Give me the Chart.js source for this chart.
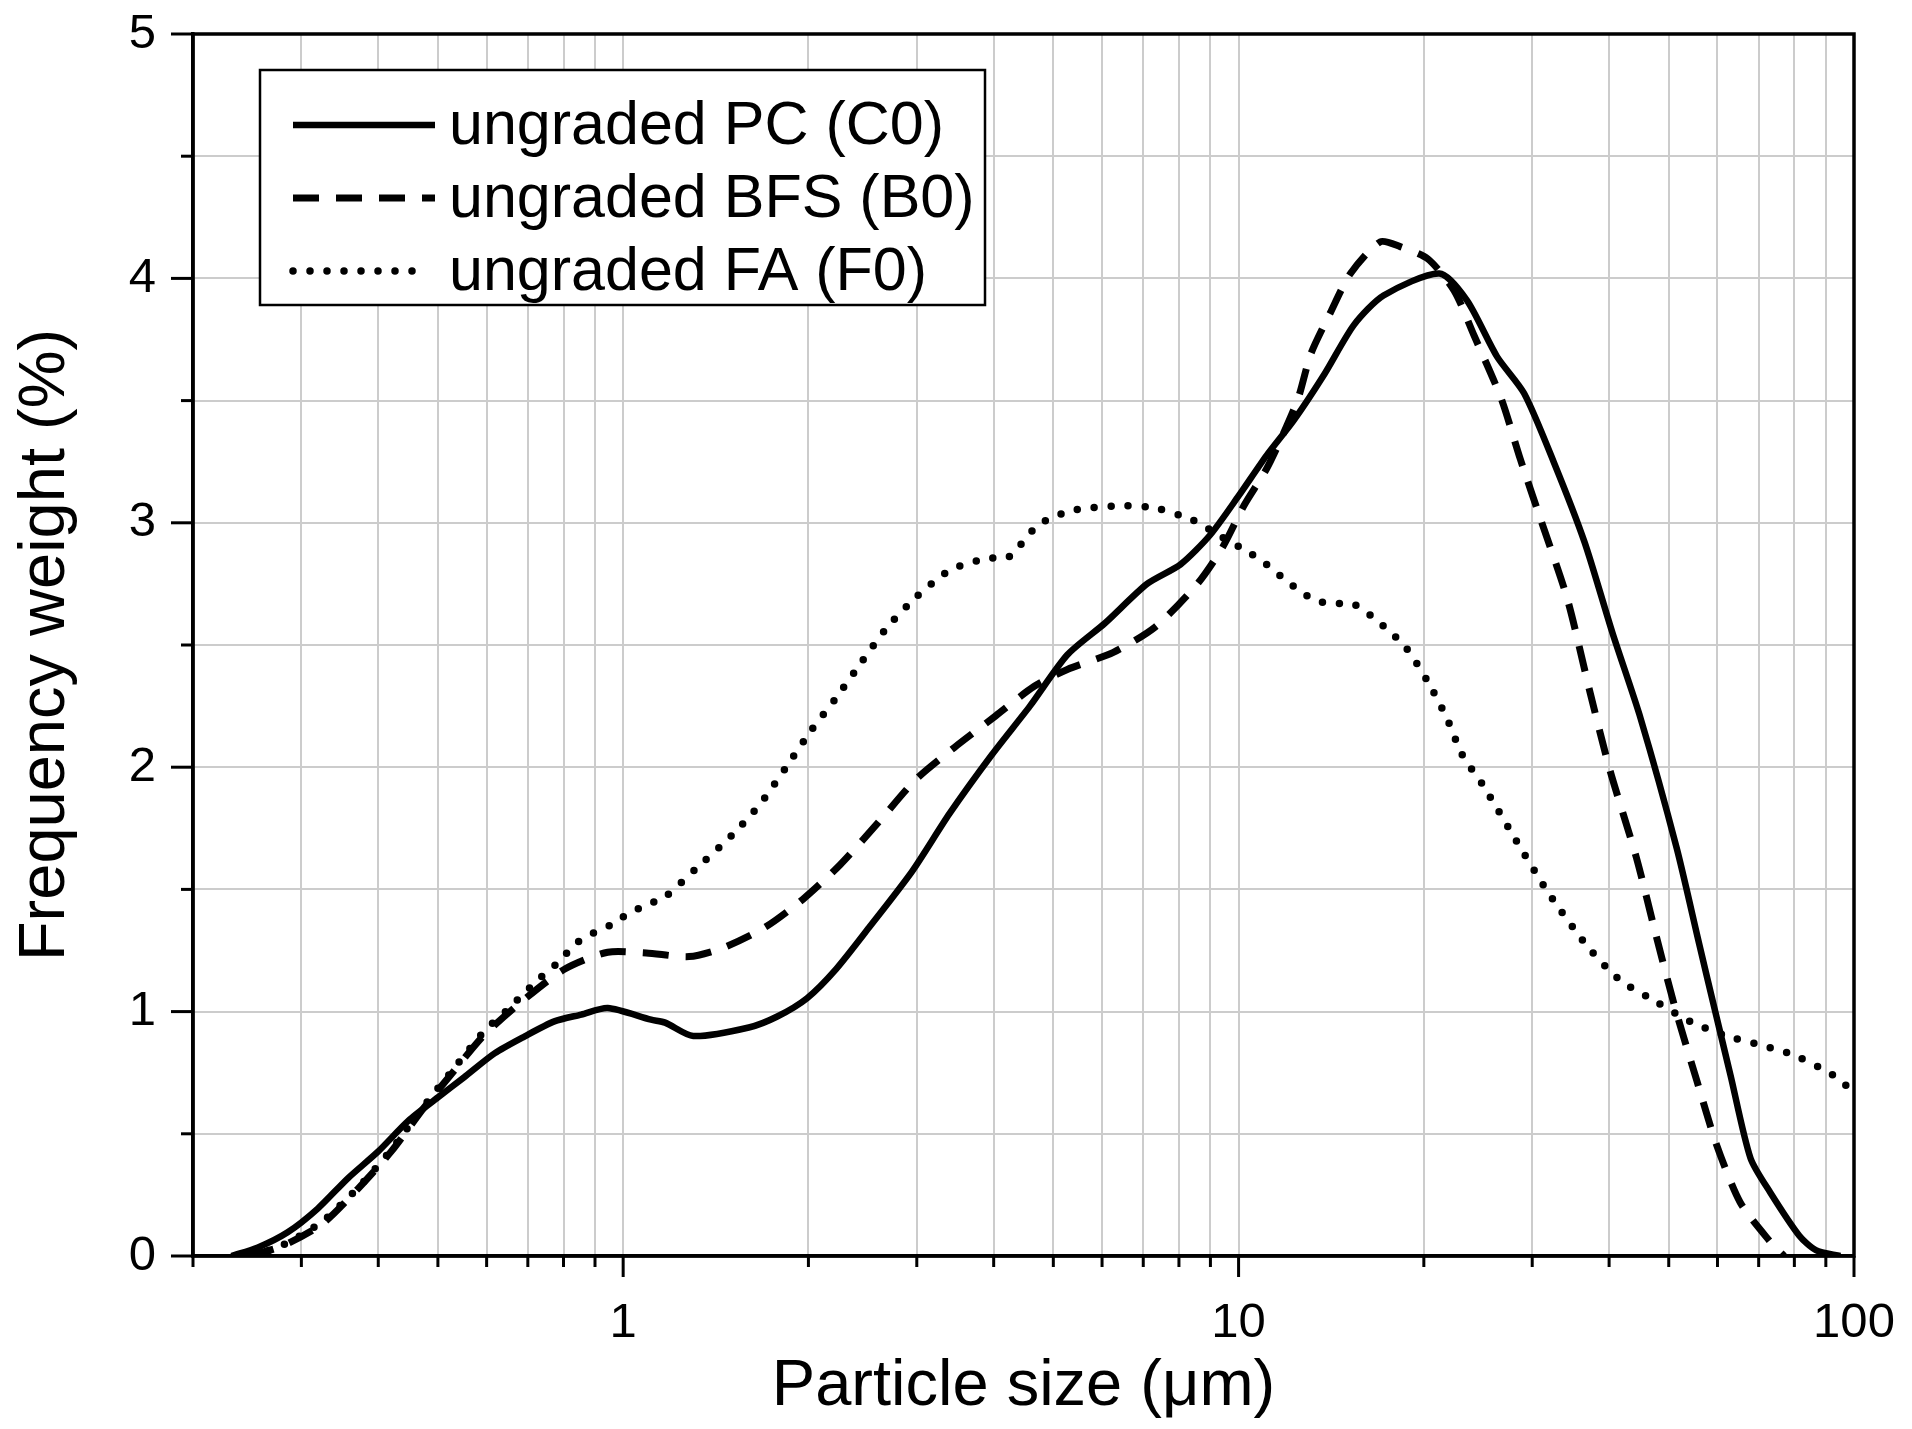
<!DOCTYPE html>
<html>
<head>
<meta charset="utf-8">
<script src="https://cdn.jsdelivr.net/npm/chart.js@4.4.1/dist/chart.umd.min.js"></script>
<style>
html,body{margin:0;padding:0;background:#fff;}
canvas{display:block;}
</style>
</head>
<body>
<canvas id="c" width="1912" height="1429"></canvas>
<script>
// ---- data ----
const seriesNames = ['ungraded PC (C0)', 'ungraded BFS (B0)', 'ungraded FA (F0)'];

const pcSize = [0.231,0.255,0.285,0.319,0.357,0.40,0.447,0.50,0.552,0.618,0.691,0.773,0.855,0.944,1.11,1.17,1.30,1.60,1.78,1.99,2.22,2.52,2.95,3.39,3.97,4.58,5.27,6.07,7.10,8.05,8.99,10.0,11.1,12.3,13.8,15.4,17.2,21.2,23.5,26.3,29.1,32.5,36.5,40.5,45.0,51.5,56.0,59.5,63.0,67.9,73.1,81.5,86.7,95.0];
const pcWeight = [0,0.035,0.097,0.194,0.318,0.428,0.552,0.649,0.732,0.829,0.898,0.96,0.988,1.015,0.967,0.955,0.90,0.935,0.98,1.055,1.175,1.35,1.575,1.81,2.05,2.25,2.46,2.59,2.75,2.83,2.95,3.11,3.275,3.42,3.61,3.81,3.93,4.02,3.91,3.68,3.53,3.25,2.92,2.55,2.20,1.67,1.28,1.00,0.74,0.40,0.26,0.083,0.024,0];

const bfsSize = [0.246,0.279,0.324,0.371,0.42,0.475,0.532,0.595,0.691,0.804,0.944,1.09,1.28,1.45,1.70,1.96,2.25,2.60,2.99,3.45,4.03,4.65,5.27,6.26,7.33,8.57,9.42,10.2,11.1,11.8,12.5,13.1,14.1,15.2,17.0,18.3,20.3,22.4,24.1,26.7,28.7,31.0,34.2,37.3,40.1,44.3,47.7,51.4,55.5,59.7,65.3,73.0,77.0];
const bfsWeight = [0,0.04,0.13,0.276,0.428,0.608,0.76,0.905,1.05,1.174,1.243,1.24,1.225,1.26,1.345,1.46,1.60,1.775,1.95,2.08,2.21,2.33,2.40,2.47,2.575,2.75,2.90,3.07,3.22,3.36,3.51,3.69,3.86,4.02,4.15,4.13,4.08,3.95,3.77,3.51,3.26,3.01,2.69,2.30,1.99,1.63,1.31,1.00,0.72,0.46,0.22,0.06,0];

const faSize = [0.25,0.28,0.324,0.371,0.42,0.475,0.532,0.595,0.65,0.727,0.783,0.839,0.893,0.956,1.018,1.09,1.17,1.32,1.50,1.67,1.84,2.02,2.22,2.44,2.68,2.99,3.39,3.91,4.23,4.72,5.35,6.45,7.33,8.44,9.42,10.3,11.1,11.8,12.6,13.4,14.4,15.3,16.4,17.5,18.7,20.3,21.8,23.1,24.9,28.1,31.8,36.8,41.6,47.7,54.1,62.1,71.3,80.2,92.5,100];
const faWeight = [0,0.045,0.14,0.28,0.435,0.615,0.77,0.92,1.01,1.13,1.20,1.28,1.32,1.355,1.40,1.436,1.47,1.59,1.72,1.85,2.0,2.15,2.285,2.43,2.57,2.695,2.805,2.855,2.86,2.99,3.05,3.07,3.06,3.01,2.94,2.885,2.83,2.775,2.72,2.68,2.67,2.67,2.62,2.56,2.49,2.35,2.20,2.05,1.93,1.71,1.49,1.27,1.13,1.04,0.96,0.90,0.86,0.82,0.74,0.67];

const xTicks = [0.2,0.3,0.4,0.5,0.6,0.7,0.8,0.9,1,2,3,4,5,6,7,8,9,10,20,30,40,50,60,70,80,90,100];
const xLabeled = [1,10,100];
const yTicks = [0,0.5,1,1.5,2,2.5,3,3.5,4,4.5,5];
const yLabeled = [0,1,2,3,4,5];
const xTitle = 'Particle size (\u03bcm)';
const yTitle = 'Frequency weight (%)';

// ---- helpers ----
function pts(xs, ys) { return xs.map((x, i) => ({x: x, y: ys[i]})); }
const FONT = "'Liberation Sans', Arial, Helvetica, sans-serif";

const frameAndTicks = {
  id: 'frameAndTicks',
  afterDraw(chart) {
    const {ctx, chartArea: a, scales} = chart;
    const xs = scales.x, ys = scales.y;
    ctx.save();
    ctx.strokeStyle = '#000';
    ctx.lineCap = 'butt';
    ctx.lineWidth = 3;
    xs.ticks.forEach(t => {
      const px = xs.getPixelForValue(t.value);
      const len = xLabeled.includes(t.value) ? 21 : 11;
      ctx.beginPath(); ctx.moveTo(px, a.bottom); ctx.lineTo(px, a.bottom + len); ctx.stroke();
    });
    ys.ticks.forEach(t => {
      const py = ys.getPixelForValue(t.value);
      const len = yLabeled.includes(t.value) ? 22 : 12;
      ctx.beginPath(); ctx.moveTo(a.left - len, py); ctx.lineTo(a.left, py); ctx.stroke();
    });
    ctx.lineWidth = 3.5;
    ctx.strokeRect(a.left, a.top, a.right - a.left, a.bottom - a.top);
    ctx.restore();
  }
};

const boxLegend = {
  id: 'boxLegend',
  afterDraw(chart) {
    const {ctx, chartArea: a} = chart;
    const left = a.left + 67, top = a.top + 36, w = 725, h = 235;
    ctx.save();
    ctx.fillStyle = '#fff';
    ctx.fillRect(left, top, w, h);
    ctx.strokeStyle = '#000';
    ctx.lineWidth = 2.5;
    ctx.setLineDash([]);
    ctx.strokeRect(left, top, w, h);
    chart.data.datasets.forEach((ds, i) => {
      const y = top + 55 + i * 73;
      ctx.save();
      ctx.strokeStyle = ds.borderColor;
      ctx.lineWidth = ds.borderWidth;
      ctx.lineCap = ds.borderCapStyle || 'butt';
      ctx.setLineDash(ds.borderDash || []);
      ctx.beginPath();
      ctx.moveTo(left + 33, y);
      ctx.lineTo(left + (i === 2 ? 163 : 175), y);
      ctx.stroke();
      ctx.restore();
      ctx.fillStyle = '#000';
      ctx.font = '61px ' + FONT;
      ctx.textAlign = 'left';
      ctx.textBaseline = 'middle';
      ctx.fillText(ds.label, left + 189, y + 2);
    });
    ctx.restore();
  }
};

Chart.defaults.color = '#000';
Chart.defaults.font.family = FONT;

new Chart(document.getElementById('c'), {
  type: 'line',
  data: {
    datasets: [
      { label: seriesNames[0], data: pts(pcSize, pcWeight), borderColor: '#000', borderWidth: 6.5,
        borderDash: [], pointRadius: 0, tension: 0.25, fill: false },
      { label: seriesNames[1], data: pts(bfsSize, bfsWeight), borderColor: '#000', borderWidth: 7,
        borderDash: [26, 17], pointRadius: 0, tension: 0.25, fill: false },
      { label: seriesNames[2], data: pts(faSize, faWeight), borderColor: '#000', borderWidth: 7.5,
        borderDash: [0, 17], borderCapStyle: 'round', pointRadius: 0, tension: 0.25, fill: false }
    ]
  },
  options: {
    responsive: false,
    animation: false,
    events: [],
    layout: { padding: { top: 34, right: 58, left: 0, bottom: 0 } },
    plugins: { legend: { display: false }, tooltip: { enabled: false } },
    scales: {
      x: {
        type: 'logarithmic',
        min: 0.2, max: 100,
        afterBuildTicks: (s) => { s.ticks = xTicks.map(v => ({value: v})); },
        afterFit: (s) => { s.height = 173; s.paddingLeft = 0; s.paddingRight = 0; },
        ticks: {
          autoSkip: false, maxRotation: 0, minRotation: 0, padding: 17,
          font: { size: 49, family: FONT },
          callback: (v) => xLabeled.includes(v) ? String(v) : ''
        },
        grid: { color: '#cccccc', lineWidth: 2, drawTicks: true, tickLength: 21, tickColor: 'rgba(0,0,0,0)' },
        border: { display: true, color: '#000', width: 3.5 },
        title: { display: true, text: xTitle, font: { size: 65, family: FONT }, padding: { top: 0, bottom: 3 } }
      },
      y: {
        type: 'linear',
        min: 0, max: 5,
        afterBuildTicks: (s) => { s.ticks = yTicks.map(v => ({value: v})); },
        afterFit: (s) => { s.width = 193; s.paddingTop = 0; s.paddingBottom = 0; },
        ticks: {
          autoSkip: false, padding: 15,
          font: { size: 49, family: FONT },
          callback: (v) => yLabeled.includes(v) ? String(v) : ''
        },
        grid: { color: '#cccccc', lineWidth: 2, drawTicks: true, tickLength: 22, tickColor: 'rgba(0,0,0,0)' },
        border: { display: true, color: '#000', width: 3.5 },
        title: { display: true, text: yTitle, font: { size: 65, family: FONT }, padding: { top: 7, bottom: 0 } }
      }
    }
  },
  plugins: [frameAndTicks, boxLegend]
});
</script>
</body>
</html>
